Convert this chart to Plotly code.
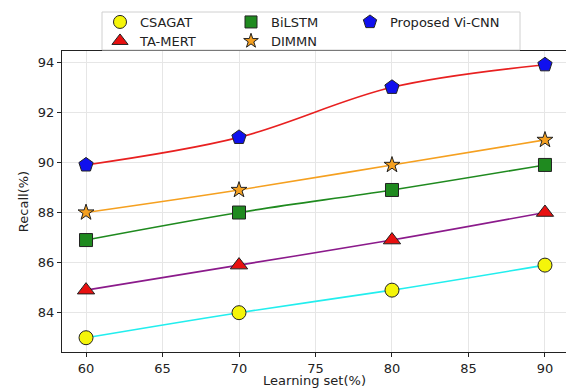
import plotly.graph_objects as go

learning_set = [60, 70, 80, 90]
csagat = [83.0, 84.0, 84.9, 85.9]
ta_mert = [84.9, 85.9, 86.9, 88.0]
bilstm = [86.9, 88.0, 88.9, 89.9]
dimmn = [88.0, 88.9, 89.9, 90.9]
vi_cnn = [89.9, 91.0, 93.0, 93.9]

# name, values, line colour, symbol, marker colour, size, legend, rank
series = [
    ("CSAGAT", csagat, "#22eeee", "circle", "#f5f50a", 14, "legend", 1),
    ("TA-MERT", ta_mert, "#8b1a8b", "triangle-up", "#e81010", 15, "legend2", 4),
    ("BiLSTM", bilstm, "#1f8a1f", "square", "#1f8a1f", 13, "legend", 2),
    ("DIMMN", dimmn, "#f5a020", "star", "#f5a020", 12, "legend2", 5),
    ("Proposed Vi-CNN", vi_cnn, "#e82020", "pentagon", "#1010ee", 15, "legend3", 3),
]

fig = go.Figure()
for name, vals, lc, sym, mc, ms, leg, rank in series:
    fig.add_trace(go.Scatter(
        x=learning_set, y=vals, name=name, mode="lines+markers",
        line=dict(color=lc, width=1.6, shape="spline", smoothing=1.0),
        marker=dict(symbol=sym, color=mc, size=ms, line=dict(color="#222222", width=1)),
        showlegend=False,
    ))
for name, vals, lc, sym, mc, ms, leg, rank in series:
    fig.add_trace(go.Scatter(
        x=[None], y=[None], name=name, mode="markers",
        marker=dict(symbol=sym, color=mc, size=ms - 1, line=dict(color="#222222", width=1)),
        legend=leg, legendrank=rank, showlegend=True,
    ))

OFF = 8  # page body margin
W, H = 574 - OFF, 388 - OFF
ML, MR, MT, MB = 62 - OFF, 7, 51 - OFF, 36
PW = W - ML - MR
PH = H - MT - MB

def px_x(p):
    return (p - 62) / PW

def px_y(p):
    return 1 + (51 - p) / PH

legend_common = dict(
    orientation="h", xanchor="left", yanchor="top",
    borderwidth=0, bgcolor="rgba(0,0,0,0)",
    font=dict(size=13, color="#222222"), itemsizing="trace",
)

fig.update_layout(
    width=W, height=H,
    margin=dict(l=ML, r=MR, t=MT, b=MB, autoexpand=False),
    paper_bgcolor="white", plot_bgcolor="white",
    font=dict(family="DejaVu Sans", size=13, color="#222222"),
    showlegend=True,
    legend=dict(x=px_x(100), y=px_y(7), entrywidth=86, entrywidthmode="pixels", **legend_common),
    legend2=dict(x=px_x(100), y=px_y(26), entrywidth=86, entrywidthmode="pixels", **legend_common),
    legend3=dict(x=px_x(350), y=px_y(7), **legend_common),
    xaxis=dict(
        title=dict(text="Learning set(%)", standoff=2, font=dict(size=13)),
        range=[58.43, 91.44], tickmode="array", tickvals=[60, 65, 70, 75, 80, 85, 90],
        showgrid=True, gridcolor="#e6e6e6", gridwidth=1,
        showline=True, linecolor="#222222", linewidth=1.2, mirror=True,
        ticks="outside", ticklen=4, tickcolor="#222222", zeroline=False,
        tickfont=dict(size=13),
    ),
    yaxis=dict(
        title=dict(text="Recall(%)", standoff=6, font=dict(size=13)),
        range=[82.43, 94.45], tickmode="array", tickvals=[84, 86, 88, 90, 92, 94],
        showgrid=True, gridcolor="#e6e6e6", gridwidth=1,
        showline=True, linecolor="#222222", linewidth=1.2, mirror=True,
        ticks="outside", ticklen=4, tickcolor="#222222", zeroline=False,
        tickfont=dict(size=13),
    ),
    shapes=[dict(
        type="rect", xref="paper", yref="paper",
        x0=px_x(102), x1=px_x(520), y0=px_y(50), y1=px_y(12),
        line=dict(color="#d0d0d0", width=1), fillcolor="rgba(0,0,0,0)", layer="above",
    )],
)

fig.write_html("out.html")
